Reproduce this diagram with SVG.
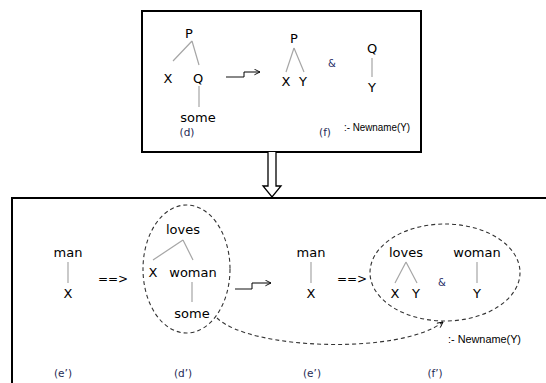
<svg xmlns="http://www.w3.org/2000/svg" width="546" height="383" viewBox="0 0 546 383">
<style>
.t{font-family:"DejaVu Sans","Open Sans",sans-serif;font-size:13px;fill:#000;text-anchor:middle}
.lb{font-family:"DejaVu Sans","Open Sans",sans-serif;font-size:10.5px;fill:#1f2a55;text-anchor:middle}
.nn{font-family:"Liberation Sans",Arial,sans-serif;font-size:10px;fill:#000}
.amp{font-family:"DejaVu Sans",sans-serif;font-size:10px;fill:#1f2a66;text-anchor:middle}
.br{stroke:#a6a6a6;stroke-width:1.2;fill:none}
.box{fill:#fff;stroke:#000;stroke-width:2}
.dash{fill:none;stroke:#333;stroke-width:1.1;stroke-dasharray:4,3}
.sq1{stroke:#888;stroke-width:2;fill:none}
.sq2{stroke:#000;stroke-width:1;fill:none}
</style>
<defs>
<marker id="ah" viewBox="0 0 10 10" refX="9" refY="5" markerWidth="7" markerHeight="7" orient="auto" markerUnits="userSpaceOnUse">
<path d="M1,1 L9,5 L1,9" fill="none" stroke="#000" stroke-width="1.3"/>
</marker>
</defs>
<rect width="546" height="383" fill="#fff"/>

<g id="top-box">
<rect class="box" x="142" y="11" width="279" height="141"/>
</g>
<g id="bottom-box">
<path class="box" d="M12,390 L12,198 L550,198" fill="none"/>
</g>

<g id="tree-d">
<text class="t" x="189" y="38">P</text>
<text class="t" x="168" y="83">X</text>
<text class="t" x="198" y="83">Q</text>
<text class="t" x="198" y="122">some</text>
<text class="lb" x="187" y="136">(d)</text>
</g>
<g id="tree-f">
<text class="t" x="294" y="43">P</text>
<text class="t" x="286" y="86">X</text>
<text class="t" x="303" y="86">Y</text>
<text class="amp" x="332" y="67">&amp;</text>
<text class="t" x="372" y="53">Q</text>
<text class="t" x="372" y="92">Y</text>
<text class="nn" x="344" y="131" textLength="66" lengthAdjust="spacingAndGlyphs">:- Newname(Y)</text>
<text class="lb" x="325" y="136">(f)</text>
</g>

<g id="e1">
<text class="t" x="68" y="257">man</text>
<text class="t" x="68" y="298">X</text>
<text class="lb" x="63" y="377">(e’)</text>
</g>
<g id="d1">
<ellipse class="dash" cx="186.5" cy="269" rx="43.5" ry="64"/>
<text class="t" x="183" y="234">loves</text>
<text class="t" x="153" y="277">X</text>
<text class="t" x="193" y="277">woman</text>
<text class="t" x="192" y="318">some</text>
<text class="lb" x="183" y="377">(d’)</text>
</g>
<g id="e2">
<text class="t" x="311" y="257">man</text>
<text class="t" x="311" y="298">X</text>
<text class="lb" x="312" y="377">(e’)</text>
</g>
<g id="f1">
<ellipse class="dash" cx="445" cy="272.5" rx="75" ry="48.5"/>
<text class="t" x="406" y="257">loves</text>
<text class="t" x="395" y="298">X</text>
<text class="t" x="416" y="298">Y</text>
<text class="amp" x="442" y="286">&amp;</text>
<text class="t" x="477" y="257">woman</text>
<text class="t" x="477" y="298">Y</text>
<text class="nn" x="448" y="343" textLength="73" lengthAdjust="spacingAndGlyphs">:- Newname(Y)</text>
<text class="lb" x="435" y="377">(f’)</text>
</g>

<g id="connectors">
<!-- tree branches top -->
<path class="br" d="M192,41 L173,61 M192,41 L199,65 M199,86 L199,107"/>
<path class="br" d="M294,48 L286,72 M294,48 L304,72 M372,58 L372,77"/>
<!-- tree branches bottom -->
<path class="br" d="M68,262 L68,283"/>
<path class="br" d="M183,240 L153,260 M183,240 L193,260 M192,282 L192,302"/>
<path class="br" d="M311,262 L311,283"/>
<path class="br" d="M406,262 L395,283 M406,262 L417,283 M477,262 L477,283"/>
<!-- squiggle arrows -->
<path class="sq1" d="M226,77 L244,77"/>
<path class="sq2" d="M244,77 L244,72 L260,72" marker-end="url(#ah)"/>
<path class="sq1" d="M235,289 L252,289"/>
<path class="sq2" d="M252,289 L252,283 L271,283" marker-end="url(#ah)"/>
<!-- ==> -->
<text class="t" x="113" y="283" style="font-size:12px">==&gt;</text>
<text class="t" x="352" y="283" style="font-size:12px">==&gt;</text>
<!-- dashed curve -->
<path class="dash" d="M217,318 C250,350 400,355 443,322" marker-end="url(#ah)"/>
<!-- hollow down arrow -->
<path d="M268,152 L268,186 L263,186 L272,197 L281,186 L276,186 L276,152" fill="#fff" stroke="#000" stroke-width="1.3"/>
</g>
</svg>
